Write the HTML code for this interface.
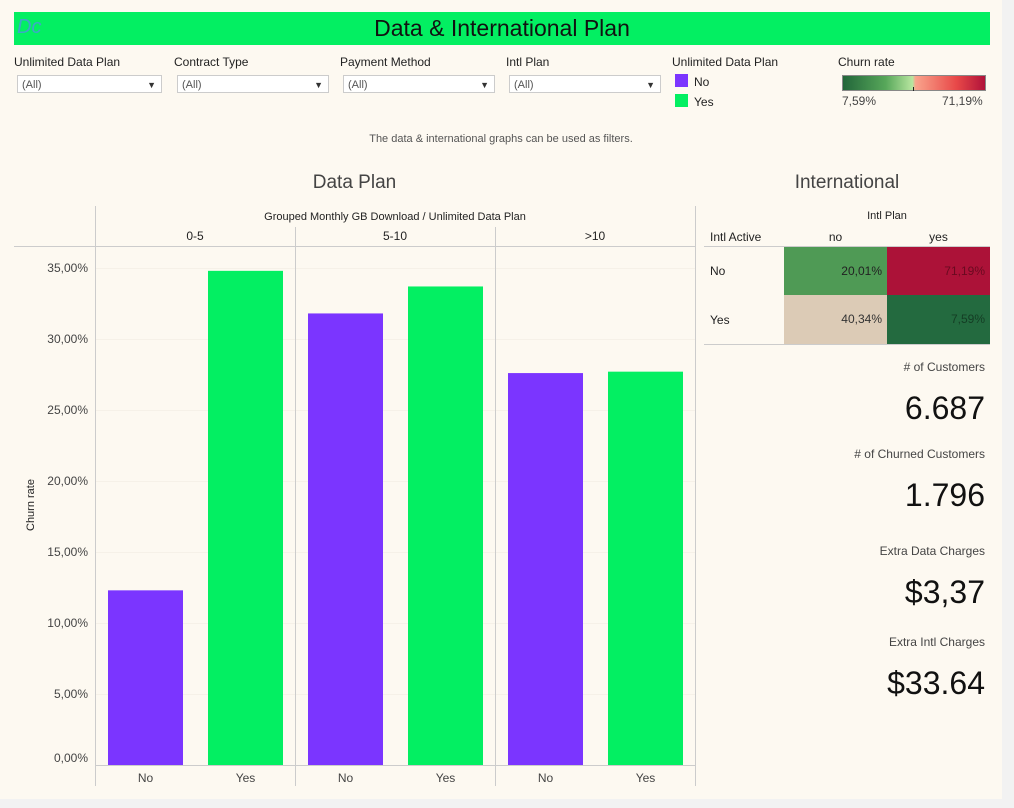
<!DOCTYPE html>
<html><head><meta charset="utf-8"><style>
body{margin:0;width:1014px;height:808px;background:#f2f2f2;font-family:"Liberation Sans",sans-serif;position:relative;overflow:hidden;color:#333}
.abs{position:absolute}
.lbl{font-size:12px;color:#222}
.dd{position:absolute;height:18px;border:1px solid #ccc;background:#fff;font-size:11px;color:#555;line-height:18px;padding-left:4px;box-sizing:border-box}
.dd span{position:absolute;right:5px;top:0;font-size:9px;color:#333}
.big{font-size:32px;color:#111;text-align:right;right:29px}
.kl{font-size:12px;color:#444;text-align:right;right:29px}
</style></head><body>
<div class="abs" style="left:0;top:0;width:1002px;height:799px;background:#fdf9f1"></div>
<div class="abs" style="left:14px;top:12px;width:976px;height:33px;background:#03ef62"></div>
<div class="abs" style="left:17px;top:16px;font-size:20px;color:#3fa6c9;font-style:italic">Dc</div>
<div class="abs" style="left:14px;top:15px;width:976px;text-align:center;font-size:23px;color:#111">Data &amp; International Plan</div>

<div class="abs lbl" style="left:14px;top:55px">Unlimited Data Plan</div>
<div class="dd" style="left:17px;top:75px;width:145px">(All)<span>▼</span></div>
<div class="abs lbl" style="left:174px;top:55px">Contract Type</div>
<div class="dd" style="left:177px;top:75px;width:152px">(All)<span>▼</span></div>
<div class="abs lbl" style="left:340px;top:55px">Payment Method</div>
<div class="dd" style="left:343px;top:75px;width:152px">(All)<span>▼</span></div>
<div class="abs lbl" style="left:506px;top:55px">Intl Plan</div>
<div class="dd" style="left:509px;top:75px;width:152px">(All)<span>▼</span></div>

<div class="abs lbl" style="left:672px;top:55px">Unlimited Data Plan</div>
<div class="abs" style="left:675px;top:74px;width:13px;height:13px;background:#7b35ff"></div>
<div class="abs lbl" style="left:694px;top:75px">No</div>
<div class="abs" style="left:675px;top:94px;width:13px;height:13px;background:#03ef62"></div>
<div class="abs lbl" style="left:694px;top:95px">Yes</div>

<div class="abs lbl" style="left:838px;top:55px">Churn rate</div>
<div class="abs" style="left:842px;top:75px;width:142px;height:14px;border:1px solid #888;background:linear-gradient(to right,#22663a,#57a75a 30%,#b8e6a0 49%,#f9a48c 51%,#e84848 80%,#b0123a)"></div>
<div class="abs" style="left:913px;top:87px;width:1px;height:4px;background:#222"></div>
<div class="abs lbl" style="left:842px;top:94px;color:#444">7,59%</div>
<div class="abs lbl" style="left:942px;top:94px;color:#444">71,19%</div>

<div class="abs" style="left:0;width:1002px;text-align:center;top:133px;font-size:11px;color:#555">The data &amp; international graphs can be used as filters.</div>
<div class="abs" style="left:14px;width:681px;text-align:center;top:172px;font-size:19px;color:#444">Data Plan</div>
<div class="abs" style="left:704px;width:286px;text-align:center;top:172px;font-size:19px;color:#444">International</div>

<svg class="abs" style="left:0;top:0" width="1014" height="808" id="chart"></svg>

<div class="abs" style="left:784px;width:206px;text-align:center;top:210px;font-size:11px;color:#222">Intl Plan</div>
<div class="abs" style="left:710px;top:230px;font-size:12px;color:#222">Intl Active</div>
<div class="abs" style="left:784px;width:103px;text-align:center;top:230px;font-size:12px;color:#222">no</div>
<div class="abs" style="left:887px;width:103px;text-align:center;top:230px;font-size:12px;color:#222">yes</div>
<div class="abs" style="left:704px;top:246px;width:286px;height:1px;background:#ccc"></div>
<div class="abs" style="left:710px;top:264px;font-size:12px;color:#222">No</div>
<div class="abs" style="left:710px;top:313px;font-size:12px;color:#222">Yes</div>
<div class="abs" style="left:784px;top:247px;width:103px;height:48px;background:#4f9a55;font-size:12px;text-align:right;line-height:48px;box-sizing:border-box;padding-right:5px;color:#222">20,01%</div>
<div class="abs" style="left:887px;top:247px;width:103px;height:48px;background:#ac1238;font-size:12px;text-align:right;line-height:48px;box-sizing:border-box;padding-right:5px;color:#6a0a20">71,19%</div>
<div class="abs" style="left:784px;top:295px;width:103px;height:49px;background:#dccbb6;font-size:12px;text-align:right;line-height:49px;box-sizing:border-box;padding-right:5px;color:#333">40,34%</div>
<div class="abs" style="left:887px;top:295px;width:103px;height:49px;background:#236a3f;font-size:12px;text-align:right;line-height:49px;box-sizing:border-box;padding-right:5px;color:#143d24">7,59%</div>
<div class="abs" style="left:704px;top:344px;width:286px;height:1px;background:#ccc"></div>

<div class="abs kl" style="top:360px">#&nbsp;of Customers</div>
<div class="abs big" style="top:390px">6.687</div>
<div class="abs kl" style="top:447px">#&nbsp;of Churned Customers</div>
<div class="abs big" style="top:477px">1.796</div>
<div class="abs kl" style="top:544px">Extra Data Charges</div>
<div class="abs big" style="top:574px">$3,37</div>
<div class="abs kl" style="top:635px">Extra Intl Charges</div>
<div class="abs big" style="top:665px">$33.64</div>

<script>
const groups=["0-5","5-10",">10"];
const plans=["No","Yes"];
const churnNo=[12.3,31.8,27.6];
const churnYes=[34.8,33.7,27.7];
const ticks=[0,5,10,15,20,25,30,35];
const tickLabels=["0,00%","5,00%","10,00%","15,00%","20,00%","25,00%","30,00%","35,00%"];
const NS="http://www.w3.org/2000/svg";
const svg=document.getElementById('chart');
function mk(t,a,txt){const e=document.createElementNS(NS,t);for(const k in a)e.setAttribute(k,a[k]);if(txt!==undefined)e.textContent=txt;svg.appendChild(e);return e;}
const y0=765,pxPer=14.2,px0=95,pw=200;
const y=v=>y0-v*pxPer;
const gx=i=>px0+i*pw;
ticks.forEach((t,i)=>{
 const g=mk('line',{x1:95,x2:695,y1:y(t)+.5,y2:y(t)+.5,stroke:t===0?'#ccc':'#f6f1e8','stroke-width':1});
 
 
 const l=mk('text',{x:88,y:t===0?y(t)-3:y(t)+4,'text-anchor':'end','font-size':12,fill:'#444'},tickLabels[i]);
 
 
});
const yt=mk('text',{x:34,y:505,'font-size':11,fill:'#222',transform:'rotate(-90 34 505)','text-anchor':'middle'},'Churn rate');


const ht=mk('text',{x:395,y:220,'font-size':11,fill:'#222','text-anchor':'middle'},'Grouped Monthly GB Download  /  Unlimited Data Plan');


mk('line',{x1:14,x2:695,y1:246.5,y2:246.5,stroke:'#ccc'});
mk('line',{x1:95.5,x2:95.5,y1:206,y2:786,stroke:'#ccc'});
groups.forEach((g,i)=>{
 const x=gx(i);
 if(i>0)mk('line',{x1:x+.5,x2:x+.5,y1:227,y2:786,stroke:'#ccc'});
 const gl=mk('text',{x:x+pw/2,y:240,'font-size':12,fill:'#222','text-anchor':'middle'},g);
 
 
 [churnNo[i],churnYes[i]].forEach((v,j)=>{
  const bx=x+13+j*100;
  const r=mk('rect',{x:bx,y:y(v),width:75,height:v*pxPer,fill:j===0?'#7b35ff':'#03ef62'});
  
  
  const t=mk('text',{x:bx+37.5,y:782,'font-size':12,fill:'#444','text-anchor':'middle'},plans[j]);
  
  
 });
});
mk('line',{x1:695.5,x2:695.5,y1:206,y2:786,stroke:'#ccc'});
</script>
</body></html>
